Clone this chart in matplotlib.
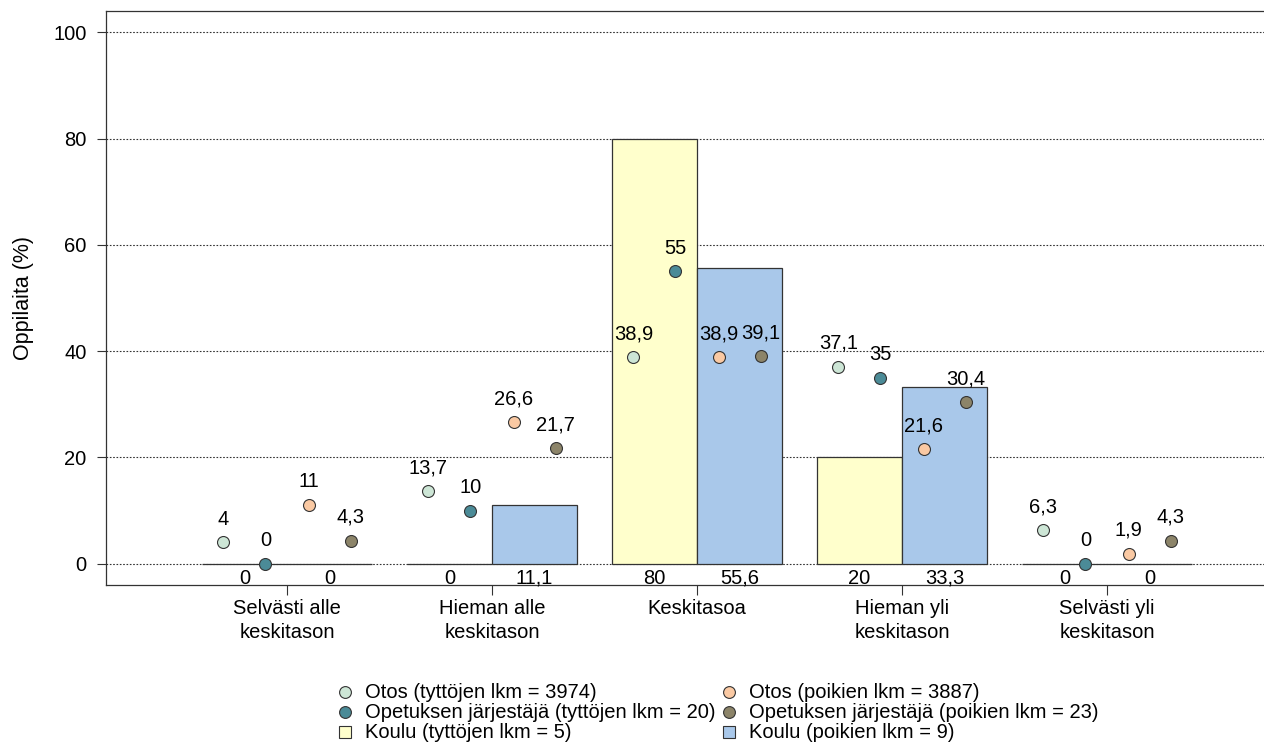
import matplotlib
matplotlib.use("Agg")
import matplotlib.pyplot as plt
import numpy as np

plt.rcParams['font.family'] = ['Liberation Sans', 'DejaVu Sans']

categories = ["Selvästi alle\nkeskitason", "Hieman alle\nkeskitason", "Keskitasoa",
              "Hieman yli\nkeskitason", "Selvästi yli\nkeskitason"]
otos_t = [4, 13.7, 38.9, 37.1, 6.3]
opet_t = [0, 10, 55, 35, 0]
otos_p = [11, 26.6, 38.9, 21.6, 1.9]
opet_p = [4.3, 21.7, 39.1, 30.4, 4.3]
koulu_t = [0, 0, 80, 20, 0]
koulu_p = [0, 11.1, 55.6, 33.3, 0]

labels = ["Otos (tyttöjen lkm = 3974)", "Opetuksen järjestäjä (tyttöjen lkm = 20)",
          "Koulu (tyttöjen lkm = 5)", "Otos (poikien lkm = 3887)",
          "Opetuksen järjestäjä (poikien lkm = 23)", "Koulu (poikien lkm = 9)"]
yticks = [0, 20, 40, 60, 80, 100]

c_otos_t = "#cde6d6"
c_opet_t = "#4b8b97"
c_otos_p = "#fac9a3"
c_opet_p = "#8c8469"
c_koulu_t = "#ffffcc"
c_koulu_p = "#a9c8ea"
edge = "#333333"

W, H = 1264, 749
fig = plt.figure(figsize=(W / 100, H / 100), dpi=100)
ax = fig.add_axes([106 / W, 1 - 585 / H, 1 - 106 / W, (585 - 11) / H])

x = np.arange(1, len(categories) + 1)
bw = 0.415
ax.set_xlim(1 - 181 / 205, 5 + 157 / 205)
ax.set_ylim(-4, 104)

for yt in yticks:
    ax.axhline(yt, color="#333333", lw=0.8, ls=(0, (1.5, 1.5)), zorder=0)

ax.bar(x - bw / 2, koulu_t, width=bw, color=c_koulu_t, edgecolor=edge, lw=0.9, zorder=2)
ax.bar(x + bw / 2, koulu_p, width=bw, color=c_koulu_p, edgecolor=edge, lw=0.9, zorder=2)


def fmt(v):
    return ("%g" % v).replace(".", ",")


fs = 14.5
for xs, vals in ((x - bw / 2, koulu_t), (x + bw / 2, koulu_p)):
    for xi, v in zip(xs, vals):
        ax.annotate(fmt(v), (xi, 0), xytext=(0, -3.5), textcoords="offset points",
                    ha="center", va="top", fontsize=fs, zorder=5)

offs = [-0.31, -0.105, 0.105, 0.31]
series = [(otos_t, c_otos_t), (opet_t, c_opet_t), (otos_p, c_otos_p), (opet_p, c_opet_p)]
for off, (vals, col) in zip(offs, series):
    ax.scatter(x + off, vals, s=74, color=col, edgecolor=edge, lw=0.8, zorder=4)
    for xi, v in zip(x + off, vals):
        ax.annotate(fmt(v), (xi, v), xytext=(0, 10), textcoords="offset points",
                    ha="center", va="bottom", fontsize=fs, zorder=5)

ax.set_xticks(x)
ax.set_xticklabels(categories, fontsize=fs, linespacing=1.35)
ax.set_yticks(yticks)
ax.set_yticklabels([str(t) for t in yticks], fontsize=fs)
ax.tick_params(axis="y", length=6.5, width=0.8, pad=7.5, color=edge)
ax.tick_params(axis="x", length=7, width=0.8, pad=3, color=edge)
ax.set_ylabel("Oppilaita (%)", fontsize=15.5)
ax.yaxis.set_label_coords(-(106 - 34) / (W - 106), 0.5)
ax.spines["right"].set_visible(False)
for s in ("left", "top", "bottom"):
    ax.spines[s].set_linewidth(0.9)
    ax.spines[s].set_color(edge)

# legend drawn on an overlay in pixel coordinates
lax = fig.add_axes([0, 0, 1, 1])
lax.set_xlim(0, W)
lax.set_ylim(H, 0)
lax.axis("off")
leg_markers = ["o", "o", "s", "o", "o", "s"]
leg_colors = [c_otos_t, c_opet_t, c_koulu_t, c_otos_p, c_opet_p, c_koulu_p]
col_x = [345, 729]
row_y = [692, 712, 732]
for i, (lab, m, c) in enumerate(zip(labels, leg_markers, leg_colors)):
    cx = col_x[i // 3]
    cy = row_y[i % 3]
    lax.plot([cx], [cy], marker=m, ls="", markersize=8.5 if m == "o" else 8,
             markerfacecolor=c, markeredgecolor=edge, markeredgewidth=0.8)
    lax.text(cx + 20, cy, lab, ha="left", va="center", fontsize=fs)

fig.savefig("out.png", dpi=100)
